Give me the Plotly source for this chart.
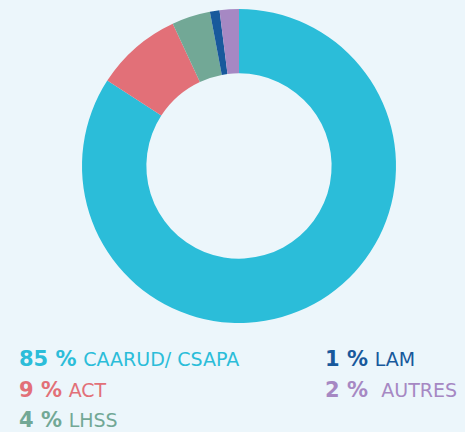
import plotly.graph_objects as go

labels = ["CAARUD/ CSAPA", "ACT", "LHSS", "LAM", "AUTRES"]
values = [85, 9, 4, 1, 2]
pct_text = ["85 %", "9 %", "4 %", "1 %", "2 %"]
colors = ["#2BBDD9", "#E27078", "#72A896", "#18599C", "#A688C3"]

W, H = 465, 432
cx, cy, r = 239, 166, 157

fig = go.Figure(go.Pie(
    labels=labels, values=values, sort=False, direction="clockwise", rotation=0,
    hole=0.59, textinfo="none", hoverinfo="label+percent",
    marker=dict(colors=colors, line=dict(width=0)),
    domain=dict(x=[(cx - r) / W, (cx + r) / W], y=[(H - cy - r) / H, (H - cy + r) / H]),
    showlegend=False,
))

pos = [(17, 359), (17, 390), (17, 420), (323, 359), (323, 390)]
anns = []
for i, (px, py) in enumerate(pos):
    gap = "&nbsp;&nbsp;" if labels[i] == "AUTRES" else "&nbsp;"
    anns.append(dict(
        x=px / W, y=1 - py / H, xref="paper", yref="paper", xanchor="left", yanchor="middle",
        showarrow=False,
        text=f"<b>{pct_text[i]}</b>{gap}<span style='font-size:19px'>{labels[i].upper()}</span>",
        font=dict(family="DejaVu Sans", size=21, color=colors[i]),
    ))

fig.update_layout(
    width=W, height=H, margin=dict(l=0, r=0, t=0, b=0),
    paper_bgcolor="#ECF6FB", plot_bgcolor="#ECF6FB",
    annotations=anns,
)
fig.write_html("out.html", config={"displayModeBar": False},
               post_script="document.body.style.margin='0';")
